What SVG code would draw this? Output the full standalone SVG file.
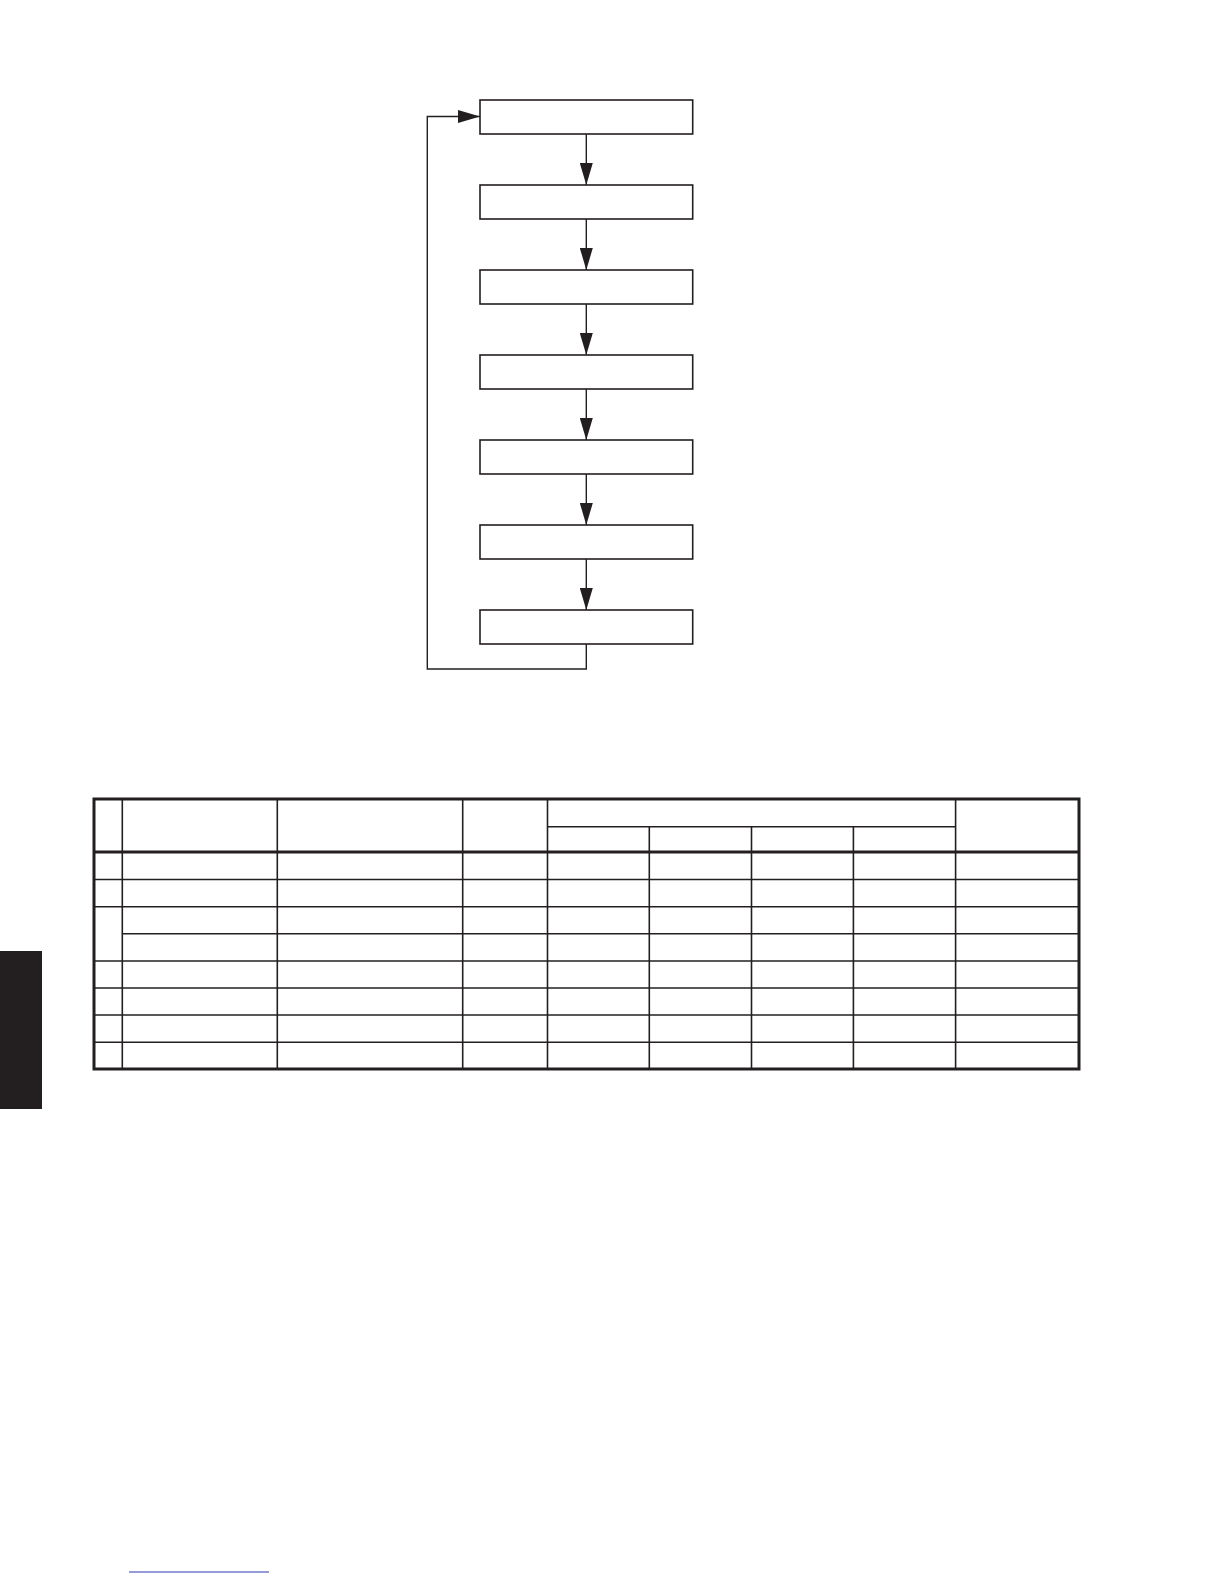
<svg xmlns="http://www.w3.org/2000/svg" width="1224" height="1584" viewBox="0 0 1224 1584">
<style>
.box{fill:#fff;stroke:#231f20;stroke-width:1.6}
.conn{fill:none;stroke:#231f20;stroke-width:1.4}
.thin{stroke:#231f20;stroke-width:1.6;fill:none}
.thick{stroke:#231f20;stroke-width:3;fill:none}
</style>
<defs>
<marker id="ah" markerUnits="userSpaceOnUse" markerWidth="22" markerHeight="13" refX="22" refY="6.5" orient="auto">
<path d="M0,0 L22,6.5 L0,13 z" fill="#231f20"/>
</marker>
</defs>
<rect width="1224" height="1584" fill="#fff"/>
<g id="connectors">
<line class="conn" x1="586.3" y1="134" x2="586.3" y2="185" marker-end="url(#ah)"/>
<line class="conn" x1="586.3" y1="219" x2="586.3" y2="270" marker-end="url(#ah)"/>
<line class="conn" x1="586.3" y1="304" x2="586.3" y2="355" marker-end="url(#ah)"/>
<line class="conn" x1="586.3" y1="389" x2="586.3" y2="440" marker-end="url(#ah)"/>
<line class="conn" x1="586.3" y1="474" x2="586.3" y2="525" marker-end="url(#ah)"/>
<line class="conn" x1="586.3" y1="559" x2="586.3" y2="610" marker-end="url(#ah)"/>
<path class="conn" d="M586.3,644 V669 H427.3 V116.5 H480" marker-end="url(#ah)"/>
</g>
<g id="node1"><rect class="box" x="480" y="100" width="212.7" height="34"/></g>
<g id="node2"><rect class="box" x="480" y="185" width="212.7" height="34"/></g>
<g id="node3"><rect class="box" x="480" y="270" width="212.7" height="34"/></g>
<g id="node4"><rect class="box" x="480" y="355" width="212.7" height="34"/></g>
<g id="node5"><rect class="box" x="480" y="440" width="212.7" height="34"/></g>
<g id="node6"><rect class="box" x="480" y="525" width="212.7" height="34"/></g>
<g id="node7"><rect class="box" x="480" y="610" width="212.7" height="34"/></g>
<g id="table">
<line class="thin" x1="547.5" y1="826.7" x2="955.6" y2="826.7"/>
<line class="thin" x1="94" y1="879.5" x2="1079" y2="879.5"/>
<line class="thin" x1="94" y1="906.7" x2="1079" y2="906.7"/>
<line class="thin" x1="122.3" y1="933.8" x2="1079" y2="933.8"/>
<line class="thin" x1="94" y1="961" x2="1079" y2="961"/>
<line class="thin" x1="94" y1="988" x2="1079" y2="988"/>
<line class="thin" x1="94" y1="1015" x2="1079" y2="1015"/>
<line class="thin" x1="94" y1="1042.2" x2="1079" y2="1042.2"/>
<line class="thin" x1="122.3" y1="799" x2="122.3" y2="1069"/>
<line class="thin" x1="277.3" y1="799" x2="277.3" y2="1069"/>
<line class="thin" x1="462.7" y1="799" x2="462.7" y2="1069"/>
<line class="thin" x1="547.5" y1="799" x2="547.5" y2="1069"/>
<line class="thin" x1="649.3" y1="826.7" x2="649.3" y2="1069"/>
<line class="thin" x1="751.5" y1="826.7" x2="751.5" y2="1069"/>
<line class="thin" x1="853.4" y1="826.7" x2="853.4" y2="1069"/>
<line class="thin" x1="955.6" y1="799" x2="955.6" y2="1069"/>
<line class="thick" x1="94" y1="852" x2="1079" y2="852"/>
<rect class="thick" x="94" y="799" width="985" height="270"/>
</g>
<rect x="0" y="951" width="42" height="158" fill="#231f20"/>
<line x1="129" y1="1572" x2="269" y2="1572" stroke="#2a3bb0" stroke-width="1"/>
</svg>
